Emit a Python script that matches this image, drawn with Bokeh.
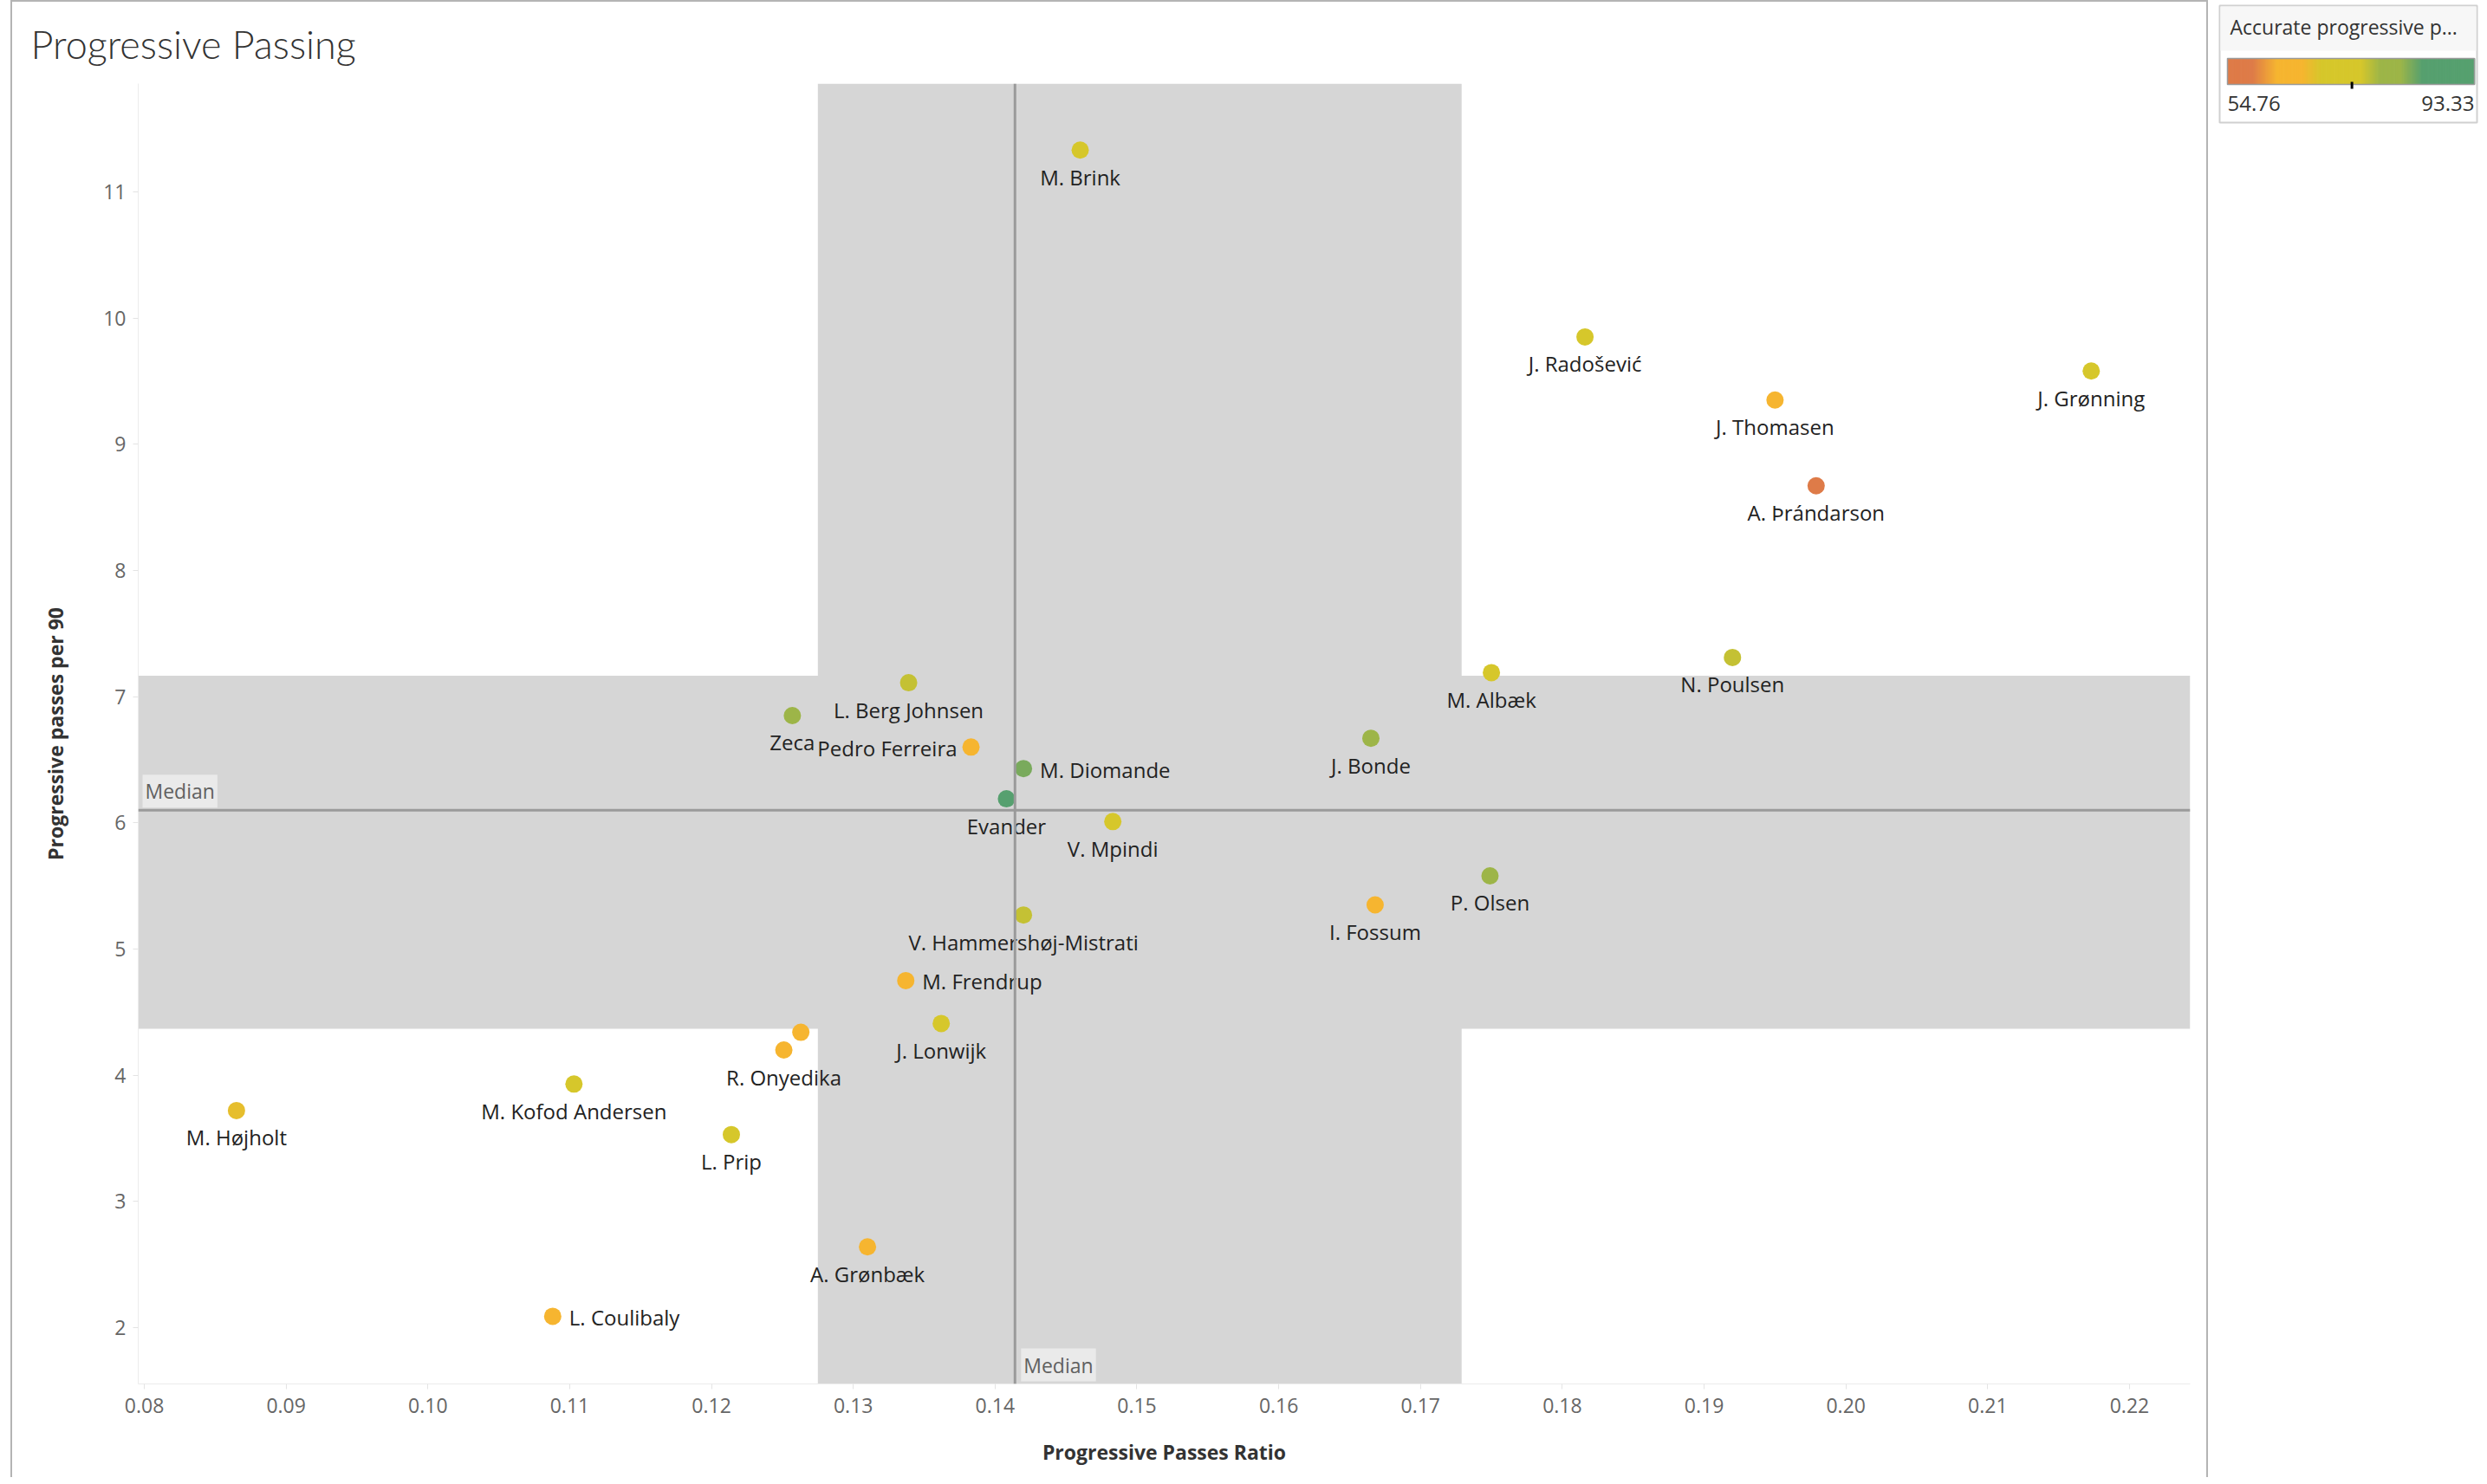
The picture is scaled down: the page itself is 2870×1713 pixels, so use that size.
import numpy as np
from bokeh.plotting import figure
from bokeh.models import (ColumnDataSource, LinearColorMapper, Range1d, BoxAnnotation,
                          Span, Label, FixedTicker, NumeralTickFormatter, Div, Spacer)
from bokeh.layouts import row, column
from bokeh.embed import file_html
from bokeh.resources import INLINE
from bokeh.core.properties import value

# ---------------- data ----------------
players = ["M. Brink", "J. Radošević", "J. Grønning", "J. Thomasen", "A. Þrándarson",
           "M. Albæk", "N. Poulsen", "L. Berg Johnsen", "Zeca", "Pedro Ferreira",
           "M. Diomande", "Evander", "J. Bonde", "V. Mpindi", "P. Olsen", "I. Fossum",
           "V. Hammershøj-Mistrati", "M. Frendrup", "J. Lonwijk", "", "R. Onyedika",
           "M. Kofod Andersen", "M. Højholt", "L. Prip", "A. Grønbæk", "L. Coulibaly"]
prog_ratio = [0.1460, 0.1816, 0.2173, 0.1950, 0.1979, 0.1750, 0.1920, 0.1339, 0.1257, 0.1383,
              0.1420, 0.1408, 0.1665, 0.1483, 0.1749, 0.1668, 0.1420, 0.1337, 0.1362, 0.1263,
              0.1251, 0.1103, 0.0865, 0.1214, 0.1310, 0.1088]
prog_per90 = [11.33, 9.85, 9.58, 9.35, 8.67, 7.19, 7.31, 7.11, 6.85, 6.60, 6.43, 6.19, 6.67,
              6.01, 5.58, 5.35, 5.27, 4.75, 4.41, 4.34, 4.20, 3.93, 3.72, 3.53, 2.64, 2.09]
accuracy = [74.0, 73.0, 73.0, 64.0, 54.76, 73.0, 76.5, 76.5, 79.5, 64.5, 83.5, 93.33, 79.5,
            73.0, 79.5, 65.0, 76.5, 65.0, 73.0, 65.0, 66.0, 74.0, 68.0, 74.0, 65.0, 64.0]

ACC_MIN, ACC_MAX = 54.76, 93.33
LEGEND_MARK = 74.2
MEDIAN_RATIO = 0.1414
MEDIAN_PER90 = 6.10
BAND_RATIO = (0.1275, 0.1729)
BAND_PER90 = (4.368, 7.165)
X_TICKS = [0.08, 0.09, 0.10, 0.11, 0.12, 0.13, 0.14, 0.15, 0.16, 0.17, 0.18, 0.19, 0.20, 0.21, 0.22]
Y_TICKS = [2, 3, 4, 5, 6, 7, 8, 9, 10, 11]
X_RANGE = (0.07957, 0.22428)
Y_RANGE = (1.554, 11.857)

label_side = {"Pedro Ferreira": "left", "M. Diomande": "right",
              "M. Frendrup": "right", "L. Coulibaly": "right"}

# ---------------- palette (stepped, Tableau-like) ----------------
anchors = [(0.0, "#DE7B48"), (0.10, "#DE7B48"), (0.20, "#F6B530"), (0.30, "#F6B530"),
           (0.38, "#D6C72B"), (0.54, "#D6C72B"), (0.62, "#9DB548"), (0.70, "#9DB548"),
           (0.79, "#56A06F"), (1.0, "#56A06F")]


def hex2rgb(h):
    return tuple(int(h[i:i + 2], 16) for i in (1, 3, 5))


palette = []
for t in np.linspace(0, 1, 256):
    for (t0, c0), (t1, c1) in zip(anchors[:-1], anchors[1:]):
        if t0 <= t <= t1:
            f = 0 if t1 == t0 else (t - t0) / (t1 - t0)
            a, b = hex2rgb(c0), hex2rgb(c1)
            rgb = [round(a[k] + (b[k] - a[k]) * f) for k in range(3)]
            palette.append("#%02x%02x%02x" % tuple(rgb))
            break

mapper = LinearColorMapper(palette=palette, low=ACC_MIN, high=ACC_MAX)

FONT = "Open Sans"

# ---------------- main figure ----------------
p = figure(width=2532, height=1703, output_backend="svg", toolbar_location=None,
           x_range=Range1d(*X_RANGE), y_range=Range1d(*Y_RANGE),
           min_border_left=145, min_border_right=19, min_border_top=93, min_border_bottom=108,
           title="Progressive Passing")
p.background_fill_color = "white"
p.border_fill_color = "white"
p.outline_line_color = None
p.xgrid.visible = False
p.ygrid.visible = False

p.title.text_font = "Lato Light, Lato"
p.title.text_font_size = "45px"
p.title.text_font_style = "normal"
p.title.text_color = "#333333"
p.title.align = "left"
p.title.offset = -124
p.title.standoff = 38

p.add_layout(BoxAnnotation(left=BAND_RATIO[0], right=BAND_RATIO[1], fill_color="#D6D6D6",
                           fill_alpha=1, line_color=None, level="underlay"))
p.add_layout(BoxAnnotation(bottom=BAND_PER90[0], top=BAND_PER90[1], fill_color="#D6D6D6",
                           fill_alpha=1, line_color=None, level="underlay"))
p.add_layout(Span(location=MEDIAN_RATIO, dimension="height", line_color="#9a9a9a", line_width=3))
p.add_layout(Span(location=MEDIAN_PER90, dimension="width", line_color="#9a9a9a", line_width=3))

p.add_layout(Label(x=X_RANGE[0], y=MEDIAN_PER90, text="Median", x_offset=5, y_offset=3,
                   text_baseline="bottom", text_font=FONT, text_font_size="23px",
                   text_color="#606060", background_fill_color="#EBEBEB",
                   background_fill_alpha=0.95, padding=3))
p.add_layout(Label(x=MEDIAN_RATIO, y=Y_RANGE[0], text="Median", x_offset=7, y_offset=3,
                   text_baseline="bottom", text_font=FONT, text_font_size="23px",
                   text_color="#606060", background_fill_color="#EBEBEB",
                   background_fill_alpha=0.95, padding=3))

src = ColumnDataSource(dict(x=prog_ratio, y=prog_per90, name=players, acc=accuracy))
p.scatter("x", "y", source=src, size=20, line_color=None,
          fill_color={"field": "acc", "transform": mapper})


def subset(side):
    idx = [i for i, n in enumerate(players) if n and label_side.get(n, "below") == side]
    return ColumnDataSource(dict(x=[prog_ratio[i] for i in idx], y=[prog_per90[i] for i in idx],
                                 name=[players[i] for i in idx]))


common = dict(text="name", text_font=value(FONT), text_font_size="24px", text_color="#222222",
              text_baseline="middle")
p.text("x", "y", source=subset("below"), text_align="center", y_offset=31, **common)
p.text("x", "y", source=subset("right"), text_align="left", x_offset=19, y_offset=1, **common)
p.text("x", "y", source=subset("left"), text_align="right", x_offset=-16, y_offset=1, **common)

for ax in (p.xaxis[0], p.yaxis[0]):
    ax.axis_line_color = "#ececec"
    ax.major_tick_line_color = "#e4e4e4"
    ax.minor_tick_line_color = None
    ax.major_tick_out = 6
    ax.major_tick_in = 0
    ax.major_label_text_font = FONT
    ax.major_label_text_font_size = "23px"
    ax.major_label_text_color = "#666666"
    ax.axis_label_text_font = FONT
    ax.axis_label_text_font_size = "23px"
    ax.axis_label_text_font_style = "bold"
    ax.axis_label_text_color = "#333333"

p.xaxis.ticker = FixedTicker(ticks=X_TICKS)
p.xaxis.formatter = NumeralTickFormatter(format="0.00")
p.xaxis.axis_label = "Progressive Passes Ratio"
p.xaxis.major_label_standoff = 10
p.xaxis.axis_label_standoff = 26
p.yaxis.ticker = FixedTicker(ticks=Y_TICKS)
p.yaxis.axis_label = "Progressive passes per 90"
p.yaxis.major_label_standoff = 8
p.yaxis.axis_label_standoff = 36

# ---------------- colour legend ----------------
lg = figure(frame_width=309, frame_height=150, output_backend="svg", toolbar_location=None,
            x_range=Range1d(0, 309), y_range=Range1d(150, 0),
            x_axis_type=None, y_axis_type=None,
            min_border=0, min_border_left=0, min_border_right=0, min_border_top=0,
            min_border_bottom=0)
lg.grid.visible = False
lg.outline_line_color = None
lg.background_fill_color = "white"
lg.border_fill_color = "white"
for fig in (p, lg):
    if "frame_align" in fig.properties():
        fig.frame_align = False
lg.align = "start"

lg.quad(left=[8], right=[305], top=[6], bottom=[141], fill_color="white",
        line_color="#d0d0d0", line_width=2)
lg.quad(left=[9], right=[304], top=[7], bottom=[58], fill_color="#F7F7F7", line_color=None)

g_left, g_right = 17, 302
n = len(palette)
edges = np.linspace(g_left, g_right, n + 1)
lg.quad(left=edges[:-1], right=edges[1:] + 0.8, top=67, bottom=97, fill_color=palette,
        line_color=None)
lg.quad(left=[g_left], right=[g_right], top=[67], bottom=[97], fill_color=None,
        line_color="#9a9a9a", line_width=1.5)
mx = g_left + (LEGEND_MARK - ACC_MIN) / (ACC_MAX - ACC_MIN) * (g_right - g_left)
lg.segment(x0=[mx], x1=[mx], y0=[94], y1=[102], line_color="black", line_width=3)

lg.text(x=[20], y=[30], text=["Accurate progressive p..."], text_font=value(FONT),
        text_font_size="23px", text_color="#333333", text_baseline="middle")
lg.text(x=[g_left], y=[119], text=["%.2f" % ACC_MIN], text_font=value(FONT),
        text_font_size="24px", text_color="#333333", text_baseline="middle", text_align="left")
lg.text(x=[g_right], y=[119], text=["%.2f" % ACC_MAX], text_font=value(FONT),
        text_font_size="24px", text_color="#333333", text_baseline="middle", text_align="right")

# worksheet frame lines
pad_left = Spacer(width=12, height=10, margin=0)
line_top = Div(text="", width=2536, height=2, margin=0, styles={"background-color": "#b4b4b4"})
line_left = Div(text="", width=2, height=1703, margin=0, styles={"background-color": "#b4b4b4"})
line_right = Div(text="", width=2, height=1703, margin=0, styles={"background-color": "#b4b4b4"})
pad_right = Spacer(width=5, height=10, margin=0)

sheet = column(line_top, row(line_left, p, line_right))
layout = row(pad_left, sheet, pad_right, lg)
open("out.html", "w").write(file_html(layout, INLINE, "Progressive Passing"))
